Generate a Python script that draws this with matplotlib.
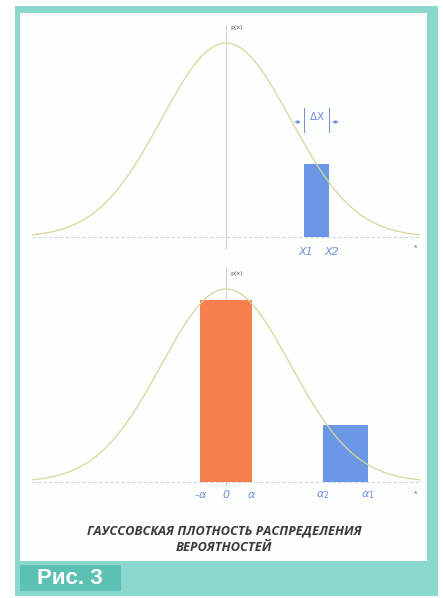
import numpy as np
import matplotlib.pyplot as plt
from matplotlib.patches import Rectangle

# data (x in units of sigma, heights in pdf units)
top_bar_x = [1.2, 1.6]          # X1, X2
top_bar_h = 0.150
top_labels = ["X1", "X2"]

bot_bars_x = [(-0.4, 0.4), (1.5, 2.2)]   # [-a, a], [a2, a1]
bot_bars_h = [0.376, 0.118]
bot_bar_colors = ["#f5804e", "#6b98e6"]
bot_tick_pos = [-0.4, 0.0, 0.4, 1.5, 2.2]
bot_tick_labels = [r"-$\alpha$", "0", r"$\alpha$", r"$\alpha_2$", r"$\alpha_1$"]

caption = "ГАУССОВСКАЯ ПЛОТНОСТЬ РАСПРЕДЕЛЕНИЯ\nВЕРОЯТНОСТЕЙ"

W, H = 443, 598
fig = plt.figure(figsize=(W / 100, H / 100), dpi=100)
fig.patch.set_facecolor("white")

def px_rect(x0, y0, x1, y1):
    # pixel box (top-left origin) -> figure fraction
    return [x0 / W, 1 - y1 / H, (x1 - x0) / W, (y1 - y0) / H]

def add_box(x0, y0, x1, y1, color, z):
    l, b, w, h = px_rect(x0, y0, x1, y1)
    fig.patches.append(Rectangle((l, b), w, h, transform=fig.transFigure,
                                 facecolor=color, edgecolor="none", zorder=z))

add_box(15, 6, 438, 596, "#8ad8ce", 0)
add_box(20, 13, 427, 561, "#fdfefe", 1)
add_box(20, 565, 121, 591, "#5cc0b3", 1)
fig.text(70 / W, 1 - 578 / H, "Рис. 3", color="white", fontsize=16,
         fontweight="bold", family="Liberation Sans", ha="center", va="center", zorder=3)

curve_col = "#d6d898"
lab_col = "#6f90e0"
xs = np.linspace(-3, 3, 400)
pdf = np.exp(-xs ** 2 / 2) / np.sqrt(2 * np.pi)
peak = pdf.max()

def make_ax(ytop_px, ybot_px, peak_px, base_px):
    ax = fig.add_axes(px_rect(32, ytop_px, 420, ybot_px))
    ax.set_xlim(-3, 3)
    k = (base_px - peak_px) / peak
    ax.set_ylim(-(ybot_px - base_px) / k, (base_px - ytop_px) / k)
    ax.axis("off")
    ax.set_zorder(2)
    ax.plot(xs, pdf, color=curve_col, lw=0.9, zorder=3)
    ax.axhline(0, color="#d3d7da", lw=0.8, ls=(0, (3, 2)), zorder=1)
    return ax, k

# --- top panel
ax1, k1 = make_ax(20, 262, 43, 237)
ax1.plot([0, 0], [-11 / k1, 212 / k1], color="#c8c8c8", lw=0.6, zorder=1)
ax1.text(0.07, 209 / k1, "p(x)", fontsize=4.5, color="#555555", va="center")
ax1.text(2.93, -10 / k1, "x", fontsize=4, color="#555555", ha="center", va="center")
ax1.bar([(top_bar_x[0] + top_bar_x[1]) / 2], [top_bar_h],
        width=top_bar_x[1] - top_bar_x[0], color="#6b98e6", zorder=2)
for xv, lab in zip(top_bar_x, top_labels):
    ax1.text(xv + 0.04, -15 / k1, lab, fontsize=8, style="italic",
             color=lab_col, ha="center", va="center")
# delta x marker
yd = 115 / k1
for xv in top_bar_x:
    ax1.plot([xv, xv], [yd - 10 / k1, yd + 14 / k1], color=lab_col, lw=0.7)
ax1.annotate("", xy=(top_bar_x[0], yd), xytext=(top_bar_x[0] - 0.18, yd),
             arrowprops=dict(arrowstyle="-|>", color=lab_col, lw=0.7, mutation_scale=5))
ax1.annotate("", xy=(top_bar_x[1], yd), xytext=(top_bar_x[1] + 0.18, yd),
             arrowprops=dict(arrowstyle="-|>", color=lab_col, lw=0.7, mutation_scale=5))
ax1.text(1.4, yd + 6 / k1, r"$\Delta$X", fontsize=7.5, color=lab_col, ha="center", va="center")

# --- bottom panel
ax2, k2 = make_ax(262, 505, 289, 482)
ax2.plot([0, 0], [-3 / k2, 214 / k2], color="#c8c8c8", lw=0.6, zorder=1)
ax2.text(0.07, 208 / k2, "p(x)", fontsize=4.5, color="#555555", va="center")
ax2.text(2.93, -10 / k2, "x", fontsize=4, color="#555555", ha="center", va="center")
for (a, b), h, c in zip(bot_bars_x, bot_bars_h, bot_bar_colors):
    ax2.bar([(a + b) / 2], [h], width=b - a, color=c, zorder=2)
for xv, lab in zip(bot_tick_pos, bot_tick_labels):
    ax2.text(xv, -13 / k2, lab, fontsize=8, style="italic",
             color=lab_col, ha="center", va="center")

fig.text(224 / W, 1 - 539 / H, caption, fontsize=9.3, fontweight="bold",
         style="italic", color="#3a3a3a", ha="center", va="center",
         linespacing=1.35, family="Open Sans", zorder=3)

fig.savefig("out.png", dpi=100)
